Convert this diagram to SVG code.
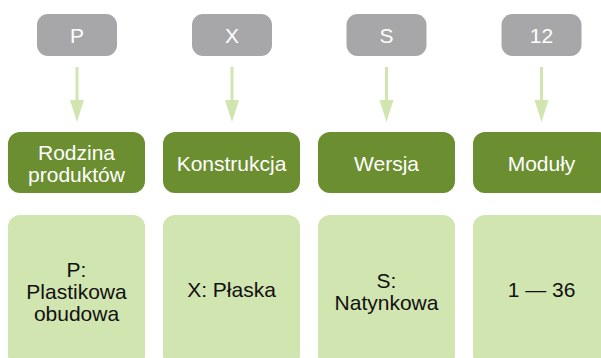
<svg xmlns="http://www.w3.org/2000/svg" width="601" height="358" viewBox="0 0 601 358">
<defs>
<style>
.code rect{fill:#a7a7a9}
.code text{fill:#ffffff}
.cat rect{fill:#6b8e30}
.cat text{fill:#ffffff}
.val rect{fill:#d1e5b0}
.val text{fill:#111111}
text{font-family:"Liberation Sans",Arial,sans-serif;font-size:21px;text-anchor:middle}
.conn line{stroke:#d1e5b0;stroke-width:3}
.conn polygon{fill:#d1e5b0}
</style>
</defs>
<rect width="601" height="358" fill="#ffffff"/>
<g class="conn" id="connectors">
<line x1="77" y1="67" x2="77" y2="101"/><polygon points="70,100 84,100 77,122"/>
<line x1="232" y1="67" x2="232" y2="101"/><polygon points="225,100 239,100 232,122"/>
<line x1="386.5" y1="67" x2="386.5" y2="101"/><polygon points="379.5,100 393.5,100 386.5,122"/>
<line x1="541.5" y1="67" x2="541.5" y2="101"/><polygon points="534.5,100 548.5,100 541.5,122"/>
</g>
<g id="code-P" class="code"><rect x="37" y="14" width="80" height="42" rx="11"/><text x="77" y="43">P</text></g>
<g id="code-X" class="code"><rect x="192" y="14" width="80" height="42" rx="11"/><text x="232" y="43">X</text></g>
<g id="code-S" class="code"><rect x="346.5" y="14" width="80" height="42" rx="11"/><text x="386.5" y="43">S</text></g>
<g id="code-12" class="code"><rect x="501.5" y="14" width="80" height="42" rx="11"/><text x="541.5" y="43">12</text></g>
<g id="cat-rodzina" class="cat"><rect x="8" y="132" width="137" height="61" rx="12"/><text x="76.5" y="160">Rodzina</text><text x="76.5" y="182">produktów</text></g>
<g id="cat-konstrukcja" class="cat"><rect x="163" y="132" width="137" height="61" rx="12"/><text x="231.5" y="170.5">Konstrukcja</text></g>
<g id="cat-wersja" class="cat"><rect x="318" y="132" width="137" height="61" rx="12"/><text x="386.5" y="170.5">Wersja</text></g>
<g id="cat-moduly" class="cat"><rect x="473" y="132" width="137" height="61" rx="12"/><text x="541.5" y="170.5">Moduły</text></g>
<g id="val-P" class="val"><rect x="8" y="215" width="137" height="152" rx="12"/><text x="76.5" y="277">P:</text><text x="76.5" y="299">Plastikowa</text><text x="76.5" y="321">obudowa</text></g>
<g id="val-X" class="val"><rect x="163" y="215" width="137" height="152" rx="12"/><text x="231.5" y="297">X: Płaska</text></g>
<g id="val-S" class="val"><rect x="318" y="215" width="137" height="152" rx="12"/><text x="386.5" y="288">S:</text><text x="386.5" y="310">Natynkowa</text></g>
<g id="val-range" class="val"><rect x="473" y="215" width="137" height="152" rx="12"/><text x="541.5" y="297">1 — 36</text></g>
</svg>
